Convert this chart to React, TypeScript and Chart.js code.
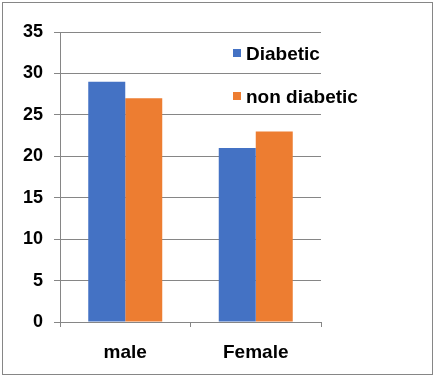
import React, { useEffect, useRef } from "react";
import { Chart, registerables } from "chart.js";

Chart.register(...registerables);

const categories = ["male", "Female"];
const diabetic = [29, 21];
const nonDiabetic = [27, 23];
const seriesLabels = ["Diabetic", "non diabetic"];
const seriesColors = ["#4472C4", "#ED7D31"];
const yMin = 0;
const yMax = 35;
const yStep = 5;

const FONT = "'Liberation Sans', Arial, sans-serif";

const legendPlugin = {
  id: "customLegend",
  afterDraw(chart: any) {
    const { ctx, chartArea } = chart;
    const x0 = chartArea.right - 88;
    const y0 = chartArea.top + 17;
    ctx.save();
    ctx.font = `bold 19px ${FONT}`;
    ctx.textBaseline = "alphabetic";
    ctx.textAlign = "left";
    chart.data.datasets.forEach((ds: any, i: number) => {
      const y = y0 + i * 43;
      ctx.fillStyle = ds.backgroundColor;
      ctx.fillRect(x0, y, 8, 8);
      ctx.fillStyle = "#000000";
      ctx.fillText(ds.label, x0 + 13, y + 11);
    });
    ctx.restore();
  },
};

export default function App() {
  const ref = useRef<HTMLCanvasElement | null>(null);
  useEffect(() => {
    if (!ref.current) return;
    const chart = new Chart(ref.current, {
      type: "bar",
      data: {
        labels: categories,
        datasets: [
          {
            label: seriesLabels[0],
            data: diabetic,
            backgroundColor: seriesColors[0],
            borderWidth: 0,
            categoryPercentage: 0.567,
            barPercentage: 1,
          },
          {
            label: seriesLabels[1],
            data: nonDiabetic,
            backgroundColor: seriesColors[1],
            borderWidth: 0,
            categoryPercentage: 0.567,
            barPercentage: 1,
          },
        ],
      },
      options: {
        responsive: false,
        animation: false,
        devicePixelRatio: 1,
        layout: { padding: { left: 0, right: 115, top: 32, bottom: 0 } },
        plugins: {
          legend: { display: false },
          tooltip: { enabled: false },
        },
        scales: {
          x: {
            grid: {
              display: true,
              drawOnChartArea: false,
              drawTicks: true,
              tickLength: 5,
              color: "#868686",
              offset: true,
            },
            border: { display: true, color: "#868686" },
            ticks: {
              color: "#000000",
              font: { family: FONT, size: 19, weight: "bold" },
              padding: 14,
            },
            afterFit: (s: any) => {
              s.height = 56;
            },
          },
          y: {
            min: yMin,
            max: yMax,
            grid: {
              color: "#868686",
              tickLength: 6,
              drawTicks: true,
            },
            border: { display: true, color: "#868686" },
            ticks: {
              stepSize: yStep,
              color: "#000000",
              font: { family: FONT, size: 18, weight: "bold" },
              padding: 11,
            },
            afterFit: (s: any) => {
              s.width = 60;
            },
          },
        },
      },
      plugins: [legendPlugin],
    });
    return () => chart.destroy();
  }, []);

  return (
    <div
      style={{
        position: "absolute",
        left: 0,
        top: 0,
        width: 436,
        height: 378,
        background: "#ffffff",
      }}
    >
      <canvas
        ref={ref}
        width={436}
        height={378}
        style={{ position: "absolute", left: 0, top: 0, width: 436, height: 378 }}
      />
      <div
        style={{
          position: "absolute",
          left: 2,
          top: 2,
          width: 431,
          height: 373,
          boxSizing: "border-box",
          border: "1px solid #868686",
          pointerEvents: "none",
        }}
      />
    </div>
  );
}
